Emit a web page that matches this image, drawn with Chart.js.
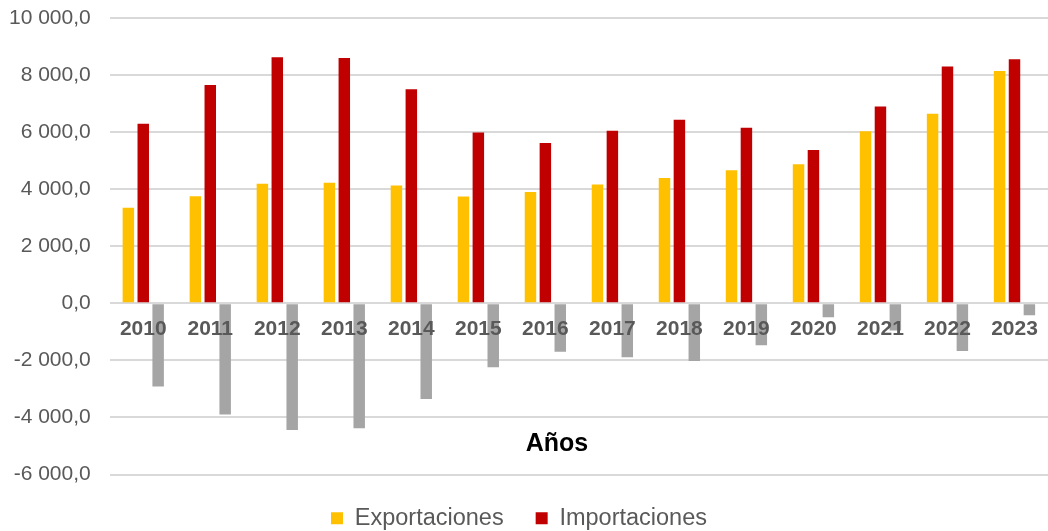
<!DOCTYPE html>
<html>
<head>
<meta charset="utf-8">
<title>Exportaciones e Importaciones</title>
<script src="https://cdn.jsdelivr.net/npm/chart.js@4.4.1/dist/chart.umd.min.js"></script>
<style>
  html, body { margin: 0; padding: 0; background: #fff; }
  #wrap { width: 1048px; height: 531px; position: relative; }
</style>
</head>
<body>
<div id="wrap"><canvas id="chart"></canvas></div>
<script>
// data
const years = ['2010', '2011', '2012', '2013', '2014', '2015', '2016', '2017', '2018', '2019', '2020', '2021', '2022', '2023'];
const exportaciones = [3350, 3750, 4190, 4230, 4130, 3740, 3900, 4160, 4390, 4660, 4870, 6030, 6640, 8140];
const importaciones = [6290, 7650, 8620, 8600, 7500, 5990, 5620, 6050, 6430, 6150, 5370, 6900, 8300, 8550];
const balanza = [-2920, -3900, -4440, -4380, -3350, -2240, -1700, -1890, -2020, -1470, -490, -950, -1670, -420];

const yMin = -6000;
const yMax = 10000;
const yStep = 2000;

const fontFamily = '"Liberation Sans", Arial, sans-serif';
const textGray = '#595959';

// 10 000,0 style numbers
function fmt(v) {
    const parts = Math.abs(v).toFixed(1).split('.');
    const int = parts[0].replace(/\B(?=(\d{3})+(?!\d))/g, ' ');
    return (v < 0 ? '-' : '') + int + ',' + parts[1];
}

// axis title sits inside the plot, below the zero line
const axisTitle = {
    id: 'axisTitle',
    afterDraw(chart) {
        const ctx = chart.ctx;
        const y = chart.scales.y.getPixelForValue(-4950);
        ctx.save();
        ctx.font = 'bold 25px ' + fontFamily;
        ctx.fillStyle = '#000000';
        ctx.textAlign = 'center';
        ctx.textBaseline = 'middle';
        ctx.fillText('Años', 557, y);
        ctx.restore();
    }
};

const ctx = document.getElementById('chart');
new Chart(ctx, {
    type: 'bar',
    data: {
        labels: years,
        datasets: [{
            label: 'Exportaciones',
            data: exportaciones,
            backgroundColor: '#FFC000'
        }, {
            label: 'Importaciones',
            data: importaciones,
            backgroundColor: '#C00000'
        }, {
            label: 'Balanza comercial',
            data: balanza,
            backgroundColor: '#A5A5A5'
        }]
    },
    options: {
        responsive: true,
        maintainAspectRatio: false,
        animation: false,
        categoryPercentage: 0.667,
        barPercentage: 0.77,
        layout: {
            padding: { left: -10, right: 0, top: 18, bottom: -9 }
        },
        scales: {
            x: {
                position: { y: 0 },
                grid: { display: false },
                border: { display: false },
                ticks: {
                    z: 1,
                    color: textGray,
                    padding: 5,
                    maxRotation: 0,
                    font: { family: fontFamily, size: 21, weight: 'bold' }
                }
            },
            y: {
                min: yMin,
                max: yMax,
                grid: {
                    color: '#D9D9D9',
                    lineWidth: 2,
                    drawTicks: false
                },
                border: { display: false },
                ticks: {
                    stepSize: yStep,
                    color: textGray,
                    padding: 19,
                    font: { family: fontFamily, size: 21 },
                    callback: (v) => fmt(v)
                },
                // the tick padding shouldn't push the plot top down
                afterFit: (scale) => {
                    scale.paddingTop = 0;
                    scale.paddingBottom = 0;
                }
            }
        },
        plugins: {
            legend: {
                position: 'bottom',
                labels: {
                    boxWidth: 12,
                    boxHeight: 12,
                    padding: 32,
                    color: textGray,
                    font: { family: fontFamily, size: 23.5 },
                    filter: (item) => item.datasetIndex < 2
                }
            },
            tooltip: { enabled: false }
        }
    },
    plugins: [axisTitle]
});
</script>
</body>
</html>
